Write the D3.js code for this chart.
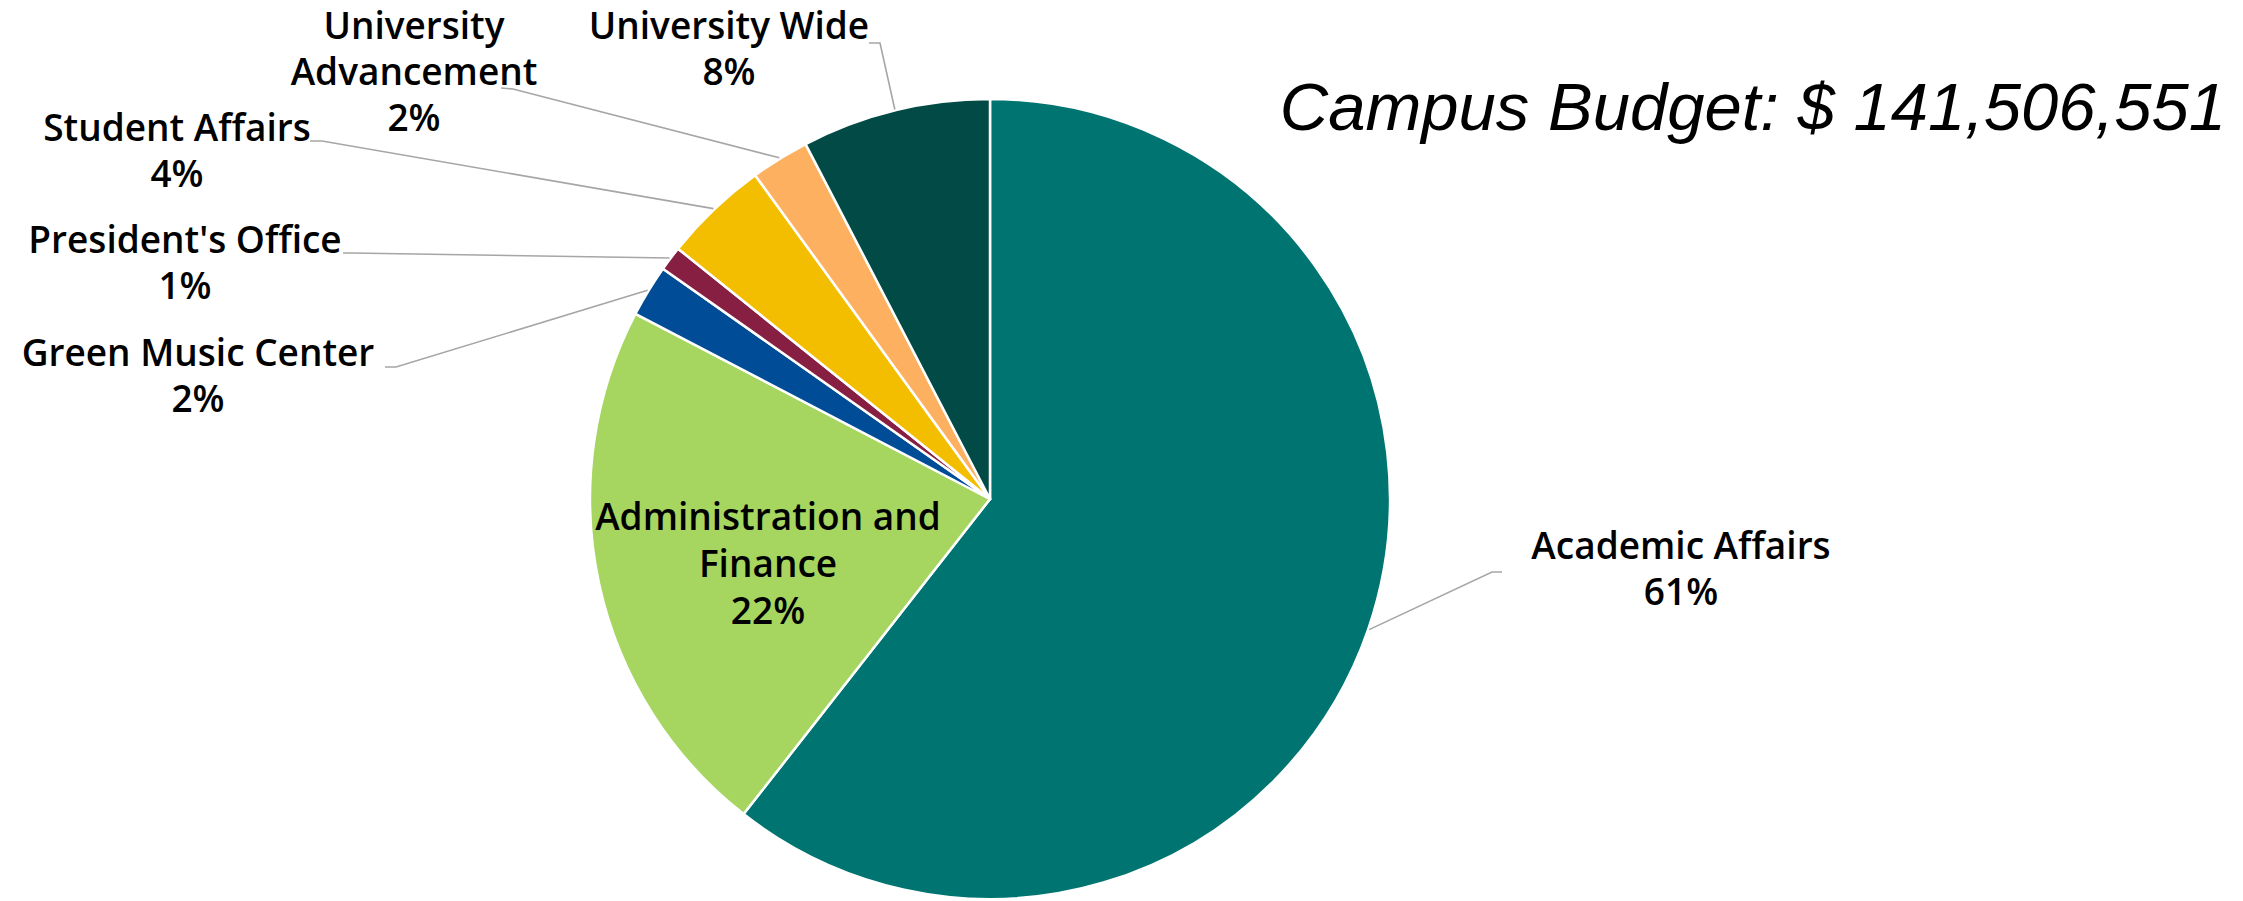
<!DOCTYPE html>
<html>
<head>
<meta charset="utf-8">
<script src="https://cdn.jsdelivr.net/npm/d3@7"></script>
<style>
  html, body { margin: 0; padding: 0; background: #ffffff; }
  svg { display: block; }
</style>
</head>
<body>
<svg id="chart" width="2243" height="901"></svg>
<script>
// Campus budget by division (dollars)
const categories = [
  "Academic Affairs",
  "Administration and Finance",
  "Green Music Center",
  "President's Office",
  "Student Affairs",
  "University Advancement",
  "University Wide"
];
const budget = [85700000, 31273000, 2972000, 1415000, 6014000, 3340000, 10792551];
const labelLines = [
  ["Academic Affairs"],
  ["Administration and", "Finance"],
  ["Green Music Center"],
  ["President's Office"],
  ["Student Affairs"],
  ["University", "Advancement"],
  ["University Wide"]
];
const sliceColors = ["#007470", "#A6D65F", "#004C97", "#861F41", "#F4BE00", "#FDB160", "#024A45"];
const titlePrefix = "Campus Budget: $ ";

// Label placement: text centre / first baseline, and where each leader meets its label
const labelLayout = [
  { x: 1681, y: 559, lh: 46, stub: [1502, 572], elbow: [1492, 572] },
  { x: 768,  y: 530, lh: 47, inside: true },
  { x: 198,  y: 366, lh: 46, stub: [385, 367], elbow: [396, 367] },
  { x: 185,  y: 253, lh: 46, stub: [343, 253], elbow: [352, 253] },
  { x: 177,  y: 141, lh: 46, stub: [310, 141], elbow: [322, 141] },
  { x: 414,  y: 39,  lh: 46, stub: [501, 88],  elbow: [513, 89] },
  { x: 729,  y: 39,  lh: 46, stub: [869, 43],  elbow: [880, 43] }
];

const cx = 990, cy = 499, R = 400;

const svg = d3.select("#chart");
const total = d3.sum(budget);
const pct = d3.scaleLinear().domain([0, total]).range([0, 100]);
const color = d3.scaleOrdinal().domain(categories).range(sliceColors);

const pie = d3.pie().sort(null).value(d => d.value);
const arcs = pie(categories.map((c, i) => ({ name: c, value: budget[i], i })));

const arc = d3.arc().innerRadius(0).outerRadius(R);
const edge = d3.arc().innerRadius(R + 1).outerRadius(R + 1);

const g = svg.append("g").attr("transform", `translate(${cx},${cy})`);

g.selectAll("path.slice")
  .data(arcs)
  .join("path")
  .attr("class", "slice")
  .attr("d", arc)
  .attr("fill", d => color(d.data.name))
  .attr("stroke", "#ffffff")
  .attr("stroke-width", 2.5)
  .attr("stroke-linejoin", "round");

// Leader lines from slice edge to outside labels
svg.append("g")
  .selectAll("polyline")
  .data(arcs.filter(d => !labelLayout[d.data.i].inside))
  .join("polyline")
  .attr("points", d => {
    const L = labelLayout[d.data.i];
    const p = edge.centroid(d);
    return [L.stub, L.elbow, [cx + p[0], cy + p[1]]].map(q => q.join(",")).join(" ");
  })
  .attr("fill", "none")
  .attr("stroke", "#A6A6A6")
  .attr("stroke-width", 1.6);

// Category and percentage labels
const labels = svg.append("g")
  .attr("font-family", "'Open Sans', 'Noto Sans', sans-serif")
  .attr("font-size", 37)
  .attr("font-weight", 600)
  .attr("fill", "#000000")
  .attr("text-anchor", "middle");

arcs.forEach(d => {
  const L = labelLayout[d.data.i];
  const lines = labelLines[d.data.i].concat([Math.round(pct(d.data.value)) + "%"]);
  const t = labels.append("text").attr("x", L.x).attr("y", L.y);
  lines.forEach((s, k) => {
    t.append("tspan")
      .attr("x", L.x)
      .attr("dy", k === 0 ? 0 : L.lh)
      .text(s);
  });
});

// Title with the campus total
svg.append("text")
  .attr("x", 2226)
  .attr("y", 130)
  .attr("text-anchor", "end")
  .attr("font-family", "'Liberation Sans', Arial, sans-serif")
  .attr("font-style", "italic")
  .attr("font-size", 67)
  .attr("fill", "#000000")
  .text(titlePrefix + d3.format(",")(total));
</script>
</body>
</html>
